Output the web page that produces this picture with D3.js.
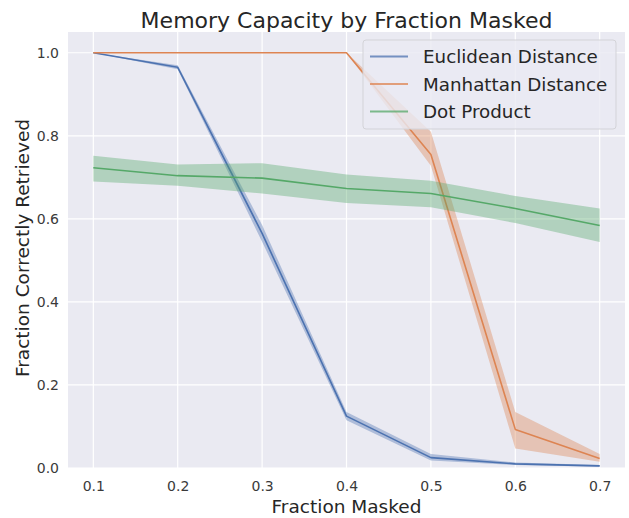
<!DOCTYPE html>
<html>
<head>
<meta charset="utf-8">
<script src="https://cdn.jsdelivr.net/npm/d3@7"></script>
<style>
  html, body { margin: 0; padding: 0; background: #ffffff; }
  svg { display: block; font-family: "DejaVu Sans", sans-serif; }
</style>
</head>
<body>
<svg id="chart" width="629" height="518"></svg>
<script>
// ---- data ----
const fractions = [0.1, 0.2, 0.3, 0.4, 0.5, 0.6, 0.7];

const euclideanMean = [1.0, 0.965, 0.565, 0.125, 0.025, 0.010, 0.005];
const euclideanLow  = [1.0, 0.960, 0.545, 0.115, 0.018, 0.007, 0.003];
const euclideanHigh = [1.0, 0.970, 0.585, 0.135, 0.034, 0.013, 0.007];

const manhattanMean = [1.0, 1.0, 1.0, 1.0, 0.755, 0.093, 0.023];
const manhattanLow  = [1.0, 1.0, 1.0, 1.0, 0.728, 0.047, 0.015];
const manhattanHigh = [1.0, 1.0, 1.0, 1.0, 0.810, 0.135, 0.034];

const dotMean = [0.723, 0.704, 0.698, 0.673, 0.661, 0.625, 0.584];
const dotLow  = [0.690, 0.680, 0.661, 0.638, 0.628, 0.590, 0.544];
const dotHigh = [0.752, 0.731, 0.734, 0.707, 0.692, 0.655, 0.625];

const seriesNames = ["Euclidean Distance", "Manhattan Distance", "Dot Product"];
const seriesColors = ["#4c72b0", "#dd8452", "#55a868"];

const xTicks = [0.1, 0.2, 0.3, 0.4, 0.5, 0.6, 0.7];
const yTicks = [0.0, 0.2, 0.4, 0.6, 0.8, 1.0];

const titleText = "Memory Capacity by Fraction Masked";
const xLabelText = "Fraction Masked";
const yLabelText = "Fraction Correctly Retrieved";

// ---- layout ----
const svg = d3.select("#chart");
const plot = { left: 68, right: 625, top: 32, bottom: 468 };

const x = d3.scaleLinear().domain([0.07, 0.73]).range([plot.left, plot.right]);
const y = d3.scaleLinear().domain([0, 1.05]).range([plot.bottom, plot.top]);

// background
svg.append("rect")
  .attr("x", plot.left).attr("y", plot.top)
  .attr("width", plot.right - plot.left).attr("height", plot.bottom - plot.top)
  .attr("fill", "#eaeaf2");

// grid
const grid = svg.append("g");
grid.selectAll("line.vx").data(xTicks).enter().append("line")
  .attr("x1", d => x(d)).attr("x2", d => x(d))
  .attr("y1", plot.top).attr("y2", plot.bottom)
  .attr("stroke", "#ffffff").attr("stroke-width", 1.2);
grid.selectAll("line.hy").data(yTicks).enter().append("line")
  .attr("y1", d => y(d)).attr("y2", d => y(d))
  .attr("x1", plot.left).attr("x2", plot.right)
  .attr("stroke", "#ffffff").attr("stroke-width", 1.2);

// axes (no domain, no tick marks)
const xAxis = d3.axisBottom(x).tickValues(xTicks).tickFormat(d3.format(".1f")).tickSize(0).tickPadding(13);
const yAxis = d3.axisLeft(y).tickValues(yTicks).tickFormat(d3.format(".1f")).tickSize(0).tickPadding(9);

const gx = svg.append("g").attr("transform", `translate(0,${plot.bottom})`).call(xAxis);
const gy = svg.append("g").attr("transform", `translate(${plot.left},0)`).call(yAxis);
[gx, gy].forEach(g => {
  g.select(".domain").remove();
  g.selectAll("text").attr("font-size", 14).attr("fill", "#3a3a3a")
    .attr("font-family", "DejaVu Sans, sans-serif");
});

// series
const series = [
  { mean: euclideanMean, low: euclideanLow, high: euclideanHigh },
  { mean: manhattanMean, low: manhattanLow, high: manhattanHigh },
  { mean: dotMean, low: dotLow, high: dotHigh }
];

const area = d3.area()
  .x((d, i) => x(fractions[i]))
  .y0(d => y(d[0]))
  .y1(d => y(d[1]));
const line = d3.line()
  .x((d, i) => x(fractions[i]))
  .y(d => y(d));

svg.append("clipPath").attr("id", "plotclip").append("rect")
  .attr("x", plot.left).attr("y", plot.top)
  .attr("width", plot.right - plot.left).attr("height", plot.bottom - plot.top);

const marks = svg.append("g").attr("clip-path", "url(#plotclip)");
series.forEach((s, k) => {
  const band = s.low.map((lo, i) => [lo, s.high[i]]);
  marks.append("path").datum(band)
    .attr("d", area)
    .attr("fill", seriesColors[k]).attr("fill-opacity", 0.38);
  marks.append("path").datum(s.mean)
    .attr("d", line)
    .attr("fill", "none").attr("stroke", seriesColors[k])
    .attr("stroke-width", 1.6).attr("stroke-linejoin", "round");
});

// legend
const legend = svg.append("g");
legend.append("rect")
  .attr("x", 363).attr("y", 40).attr("width", 253).attr("height", 89)
  .attr("rx", 3)
  .attr("fill", "#eaeaf2").attr("fill-opacity", 0.8)
  .attr("stroke", "#d3d3d8").attr("stroke-width", 1);
seriesNames.forEach((name, k) => {
  const cy = 56.5 + k * 27.5;
  legend.append("line")
    .attr("x1", 370).attr("x2", 408).attr("y1", cy).attr("y2", cy)
    .attr("stroke", seriesColors[k]).attr("stroke-width", 1.8).attr("stroke-opacity", 0.75);
  legend.append("text")
    .attr("x", 423).attr("y", cy).attr("dy", "0.36em")
    .attr("font-size", 18.3).attr("fill", "#262626")
    .text(name);
});

// title & labels
svg.append("text")
  .attr("x", (plot.left + plot.right) / 2).attr("y", 28)
  .attr("text-anchor", "middle").attr("font-size", 22).attr("fill", "#262626")
  .text(titleText);
svg.append("text")
  .attr("x", (plot.left + plot.right) / 2).attr("y", 513)
  .attr("text-anchor", "middle").attr("font-size", 18.5).attr("fill", "#262626")
  .text(xLabelText);
svg.append("text")
  .attr("transform", `translate(29,${(plot.top + plot.bottom) / 2 - 2}) rotate(-90)`)
  .attr("text-anchor", "middle").attr("font-size", 18.5).attr("fill", "#262626")
  .text(yLabelText);
</script>
</body>
</html>
